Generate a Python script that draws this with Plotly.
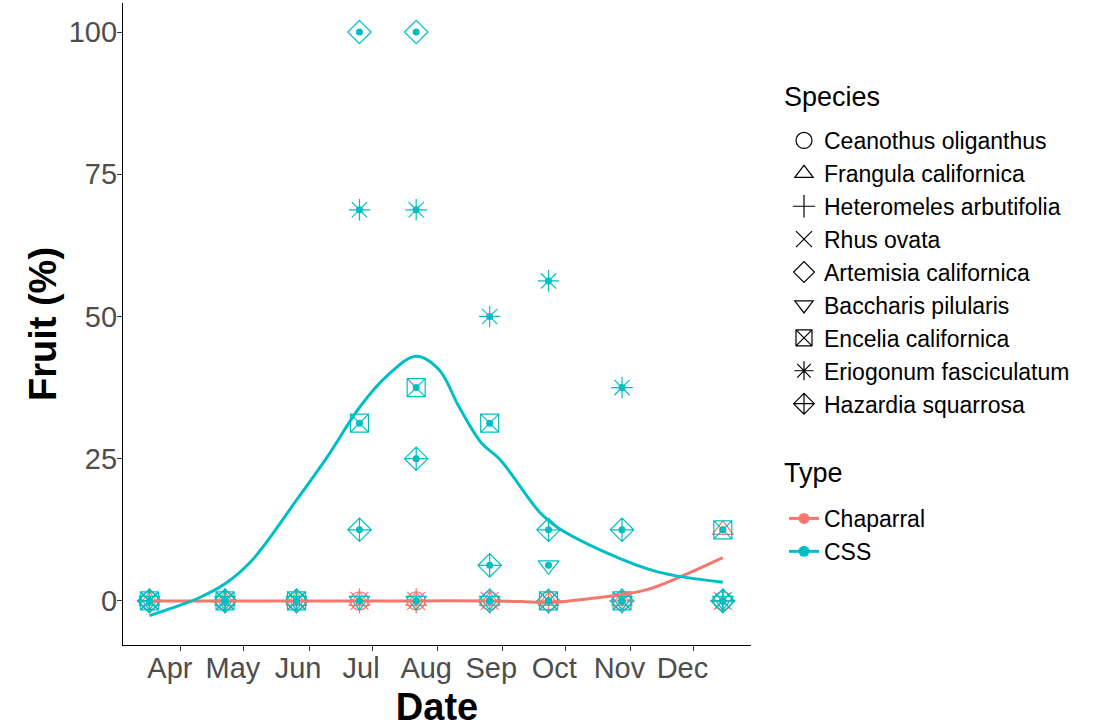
import plotly.graph_objects as go

# ---------------- data ----------------
dates = ["2019-03-17", "2019-04-22", "2019-05-26", "2019-06-25", "2019-07-22",
         "2019-08-26", "2019-09-23", "2019-10-28", "2019-12-15"]

species_names = ["Ceanothus oliganthus", "Frangula californica", "Heteromeles arbutifolia",
                 "Rhus ovata", "Artemisia californica", "Baccharis pilularis",
                 "Encelia californica", "Eriogonum fasciculatum", "Hazardia squarrosa"]
species_type = ["Chaparral", "Chaparral", "Chaparral", "Chaparral",
                "CSS", "CSS", "CSS", "CSS", "CSS"]

ceanothus = [0, 0, 0, 0, 0, 0, 0, 0, 0]
frangula = [0, 0, 0, 0, 0, 0, 0, 0, 12.5]
heteromeles = [0, 0, 0, 0, 0, 0, 0, 0, 0]
rhus = [0, 0, 0, 0, 0, 0, 0, 0, 0]
artemisia = [0, 0, 0, 100, 100, 0, 0, 0, 0]
baccharis = [0, 0, 0, 0, 0, 0, 6.25, 0, 0]
encelia = [0, 0, 0, 31.25, 37.5, 31.25, 0, 0, 12.5]
eriogonum = [0, 0, 0, 68.75, 68.75, 50, 56.25, 37.5, 0]
hazardia = [0, 0, 0, 12.5, 25, 6.25, 12.5, 12.5, 0]
species_values = [ceanothus, frangula, heteromeles, rhus, artemisia,
                  baccharis, encelia, eriogonum, hazardia]

# smoothed trend lines
css_smooth_dates = ["2019-03-17", "2019-04-01", "2019-04-10", "2019-04-22", "2019-05-05",
                    "2019-05-26", "2019-06-10", "2019-06-25", "2019-07-08", "2019-07-22",
                    "2019-08-02", "2019-08-11", "2019-08-22", "2019-08-31", "2019-09-19",
                    "2019-09-27", "2019-10-21", "2019-11-14", "2019-12-15"]
css_smooth = [-2.6, -0.7, 0.6, 3.0, 7.2, 17.7, 25.5, 34.0, 39.5, 43.0,
              40.6, 34.4, 27.8, 24.8, 15.5, 13.0, 8.4, 5.1, 3.3]
chap_smooth_dates = ["2019-03-17", "2019-04-22", "2019-05-26", "2019-06-25", "2019-07-22",
                     "2019-08-26", "2019-09-10", "2019-09-23", "2019-10-15", "2019-11-08",
                     "2019-11-22", "2019-12-15"]
chap_smooth = [0, 0, 0, 0, 0, 0, -0.1, -0.3, 0.5, 1.9, 3.8, 7.6]

month_ticks = ["2019-04-01", "2019-05-01", "2019-06-01", "2019-07-01", "2019-08-01",
               "2019-09-01", "2019-10-01", "2019-11-01", "2019-12-01"]
month_labels = ["Apr", "May", "Jun", "Jul", "Aug", "Sep", "Oct", "Nov", "Dec"]
y_ticks = [0, 25, 50, 75, 100]

# ---------------- styling ----------------
FONT = "Liberation Sans, Arial, sans-serif"
COLORS = {"Chaparral": "#F8766D", "CSS": "#00BFC4"}
SYMBOLS = ["circle-open", "triangle-up-open", "cross-thin-open", "x-thin-open",
           "diamond-open", "triangle-down-open", "square-x-open", "asterisk-open",
           "diamond-cross-open"]

fig = go.Figure()

# species markers (Chaparral first, then CSS on top)
for name, typ, sym, vals in zip(species_names, species_type, SYMBOLS, species_values):
    fig.add_trace(go.Scatter(
        x=dates, y=vals, mode="markers", showlegend=False, hoverinfo="skip",
        marker=dict(symbol=sym, size=18, color=COLORS[typ],
                    line=dict(color=COLORS[typ], width=1.2)),
    ))

# smooth lines
fig.add_trace(go.Scatter(x=chap_smooth_dates, y=chap_smooth, mode="lines",
                         line=dict(color=COLORS["Chaparral"], width=3, shape="spline"),
                         showlegend=False, hoverinfo="skip"))
fig.add_trace(go.Scatter(x=css_smooth_dates, y=css_smooth, mode="lines",
                         line=dict(color=COLORS["CSS"], width=3, shape="spline"),
                         showlegend=False, hoverinfo="skip"))

# centre dots, coloured by type
for typ in ["Chaparral", "CSS"]:
    xs, ys = [], []
    for t, vals in zip(species_type, species_values):
        if t == typ:
            xs += dates
            ys += vals
    fig.add_trace(go.Scatter(x=xs, y=ys, mode="markers", showlegend=False,
                             hoverinfo="skip",
                             marker=dict(symbol="circle", size=7, color=COLORS[typ])))

# legend entries: species (black shapes)
for name, sym in zip(species_names, SYMBOLS):
    fig.add_trace(go.Scatter(
        x=[None], y=[None], mode="markers", name=name, legend="legend",
        marker=dict(symbol=sym, size=16, color="black", line=dict(color="black", width=1.2)),
    ))
# legend entries: type
for typ in ["Chaparral", "CSS"]:
    fig.add_trace(go.Scatter(
        x=[None], y=[None], mode="lines+markers", name=typ, legend="legend2",
        line=dict(color=COLORS[typ], width=3),
        marker=dict(symbol="circle", size=11, color=COLORS[typ]),
    ))

L, R, T, B = 123, 751, 3, 645
W, H = 1094, 728

def px_x(x):
    return (x - L) / (R - L)

def px_y(y):
    return (B - y) / (B - T)

fig.update_layout(
    width=W, height=H,
    margin=dict(l=L, r=W - R, t=T, b=H - B, pad=0),
    paper_bgcolor="white", plot_bgcolor="white",
    font=dict(family=FONT, color="black"),
    xaxis=dict(
        type="date", range=["2019-03-04 10:00", "2019-12-28 10:00"],
        tickvals=month_ticks, ticktext=month_labels,
        ticks="outside", ticklen=5, tickwidth=1, tickcolor="#333333",
        showline=True, linecolor="black", linewidth=1.2, mirror=False,
        showgrid=False, zeroline=False,
        tickfont=dict(family=FONT, size=29, color="#4D4D4D"),
        ticklabelshift=-11, ticklabelstandoff=-8,
        title=dict(text="<b>Date</b>", font=dict(family=FONT, size=38, color="black"),
                   standoff=12),
    ),
    yaxis=dict(
        range=[-7.75, 105.1], tickvals=y_ticks,
        ticks="outside", ticklen=5, tickwidth=1, tickcolor="#333333",
        showline=True, linecolor="black", linewidth=1.2,
        showgrid=False, zeroline=False,
        tickfont=dict(family=FONT, size=29, color="#4D4D4D"),
        ticklabelstandoff=-6,
        title=dict(text="<b>Fruit (%)</b>", font=dict(family=FONT, size=38, color="black"),
                   standoff=0),
    ),
    legend=dict(
        x=784 / W, xref="container", xanchor="left",
        y=1 - 119 / H, yref="container", yanchor="top",
        font=dict(family=FONT, size=23, color="black"),
        bgcolor="rgba(0,0,0,0)", tracegroupgap=0,
    ),
    legend2=dict(
        x=784 / W, xref="container", xanchor="left",
        y=1 - 497 / H, yref="container", yanchor="top",
        font=dict(family=FONT, size=23, color="black"),
        bgcolor="rgba(0,0,0,0)",
    ),
    annotations=[
        dict(text="Species", x=px_x(782), y=px_y(97), xref="paper", yref="paper",
             xanchor="left", yanchor="middle", showarrow=False,
             font=dict(family=FONT, size=27, color="black")),
        dict(text="Type", x=px_x(782), y=px_y(473), xref="paper", yref="paper",
             xanchor="left", yanchor="middle", showarrow=False,
             font=dict(family=FONT, size=27, color="black")),
    ],
)

fig.write_html("out.html")
